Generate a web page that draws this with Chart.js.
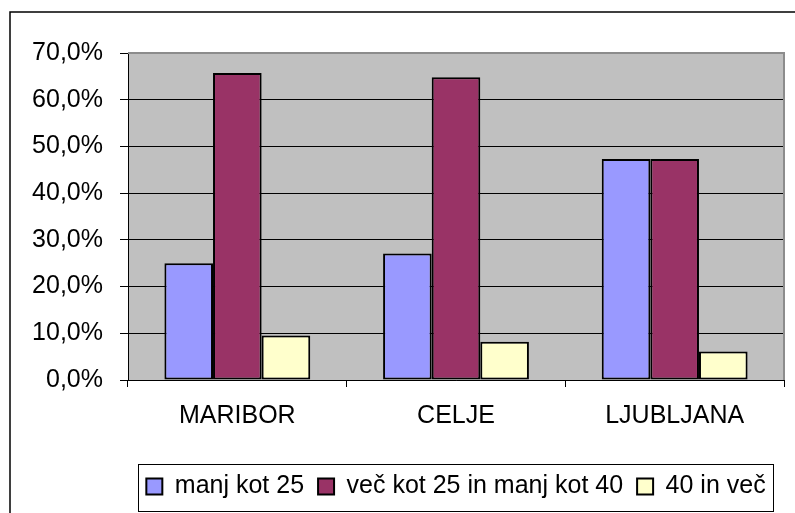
<!DOCTYPE html>
<html>
<head>
<meta charset="utf-8">
<script src="https://cdn.jsdelivr.net/npm/chart.js@4"></script>
<style>
  html, body { margin:0; padding:0; background:#fff; }
  #wrap { width:795px; height:513px; position:relative; }
</style>
</head>
<body>
<div id="wrap"><canvas id="chart" width="795" height="513"></canvas></div>
<script>
// values (percent)
const cities = ['MARIBOR', 'CELJE', 'LJUBLJANA'];
const under25 = [25.0, 27.1, 47.3];
const from25to40 = [65.7, 64.8, 47.3];
const over40 = [9.5, 8.2, 6.1];
const seriesNames = ['manj kot 25', 'več kot 25 in manj kot 40', '40 in več'];
const yTicks = [0, 10, 20, 30, 40, 50, 60, 70];

const FONT = "'Liberation Sans', Arial, sans-serif";

// grey plot area + grey top/right frame + outer chart frame
const frame = {
  id: 'frame',
  beforeDraw(chart){
    const {ctx, chartArea:a} = chart;
    ctx.save();
    ctx.fillStyle = '#c0c0c0';
    ctx.fillRect(a.left, a.top, a.right - a.left, a.bottom - a.top);
    ctx.restore();
  },
  beforeDatasetsDraw(chart){
    const {ctx, chartArea:a} = chart;
    ctx.save();
    ctx.strokeStyle = '#8c8c8c';
    ctx.lineWidth = 2;
    ctx.beginPath();
    ctx.moveTo(a.left, a.top);
    ctx.lineTo(a.right, a.top);
    ctx.lineTo(a.right, a.bottom);
    ctx.stroke();
    ctx.restore();
  },
  afterDraw(chart){
    const ctx = chart.ctx;
    ctx.save();
    ctx.strokeStyle = '#000';
    ctx.lineWidth = 1.5;
    ctx.strokeRect(10, 12, 900, 700);
    // legend box
    const hb = chart.legend.legendHitBoxes;
    if(hb && hb.length){
      const l = Math.min(...hb.map(h => h.left)) - 8;
      const r = Math.max(...hb.map(h => h.left + h.width)) + 8;
      const cy = hb[0].top + hb[0].height / 2;
      ctx.lineWidth = 1;
      ctx.strokeRect(Math.round(l) + 0.5, Math.round(cy - 23) + 0.5, Math.round(r - l), 47);
    }
    ctx.restore();
  }
};

new Chart(document.getElementById('chart'), {
  type: 'bar',
  data: {
    labels: cities,
    datasets: [
      {label: seriesNames[0], data: under25, backgroundColor: '#9999ff'},
      {label: seriesNames[1], data: from25to40, backgroundColor: '#993366'},
      {label: seriesNames[2], data: over40, backgroundColor: '#ffffcc'}
    ].map(d => Object.assign(d, {borderColor: '#000', borderWidth: 2, borderSkipped: false}))
  },
  options: {
    responsive: false,
    animation: false,
    datasets: { bar: { categoryPercentage: 0.667, barPercentage: 1 } },
    layout: { padding: { top: 53, right: 11, bottom: 4, left: 0 } },
    plugins: {
      tooltip: { enabled: false },
      legend: {
        position: 'bottom',
        fullSize: false,
        labels: {
          color: '#000',
          font: { family: FONT, size: 25 },
          boxWidth: 16,
          boxHeight: 16,
          padding: 14
        }
      }
    },
    scales: {
      x: {
        afterFit: s => { s.height = 80; },
        grid: { display: true, offset: true, drawOnChartArea: false, drawTicks: true, tickLength: 7, color: '#000' },
        border: { color: '#000', width: 1 },
        ticks: { color: '#000', font: { family: FONT, size: 25 }, padding: 14, maxRotation: 0 }
      },
      y: {
        min: 0,
        max: 70,
        afterFit: s => { s.width = 128; },
        afterBuildTicks: s => { s.ticks = yTicks.map(v => ({value: v})); },
        grid: { color: '#000', tickLength: 8, lineWidth: 1 },
        border: { color: '#000', width: 1 },
        ticks: {
          color: '#000',
          font: { family: FONT, size: 25 },
          padding: 17,
          callback: v => v.toFixed(1).replace('.', ',') + '%'
        }
      }
    }
  },
  plugins: [frame]
});
</script>
</body>
</html>
